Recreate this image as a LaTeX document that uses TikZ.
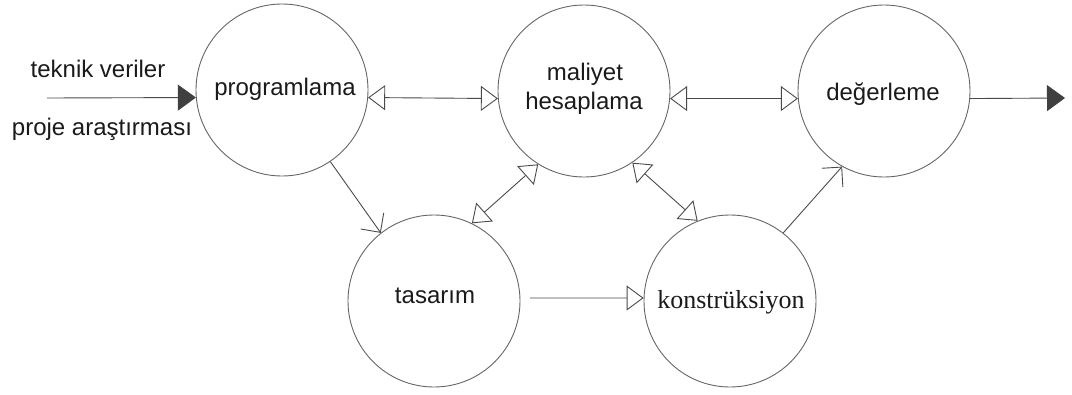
\documentclass[tikz,border=0pt]{standalone}
\usepackage{fontspec}
\setmainfont{Liberation Sans}
\newfontfamily\konfont{Liberation Serif}
\usetikzlibrary{arrows.meta}
\definecolor{circgray}{HTML}{666666}
\definecolor{linegray}{HTML}{4A4A4A}
\definecolor{headgray}{HTML}{404040}
\definecolor{txt}{HTML}{1A1A1A}
\begin{document}
\begin{tikzpicture}[x=1pt,y=-1pt,
  circ/.style={circle,draw=circgray,line width=0.9pt,minimum size=172pt,inner sep=0pt},
  lbl/.style={font=\fontsize{24}{28}\selectfont,text=txt,anchor=base,inner sep=0pt},
  konlbl/.style={font=\konfont\fontsize{26}{30}\selectfont,text=txt,anchor=base,inner sep=0pt},
  conn/.style={draw=linegray,line width=0.9pt},
  opentri/.style={-{Triangle[open,length=17pt,width=25pt]}},
  bothtri/.style={{Triangle[open,length=17pt,width=25pt]}-{Triangle[open,length=17pt,width=25pt]}},
  filltri/.style={-{Triangle[length=18pt,width=26pt,fill=headgray,color=headgray]}},
  barb/.style={-{Straight Barb[length=14pt,width=28pt]}}
]
\useasboundingbox (0,0) rectangle (1072,394);

\node[circ] (prog) at (282,90) {};
\node[circ] (mal) at (584,91) {};
\node[circ] (deg) at (884,91) {};
\node[circ] (tas) at (434,301) {};
\node[circ] (kon) at (730,301) {};

\node[lbl] (tprog) at (285,95) {programlama};
\node[lbl] (tmal1) at (585,80) {maliyet};
\node[lbl] (tmal2) at (584,109) {hesaplama};
\node[lbl] (tdeg) at (883,100) {değerleme};
\node[lbl] (ttas) at (435,303) {tasarım};
\node[konlbl] (tkon) at (731,308) {konstrüksiyon};

\node[lbl] (tin1) at (98,77) {teknik veriler};
\node[lbl] (tin2) at (102,135) {proje araştırması};

\coordinate (in) at (47,98);
\coordinate (out) at (1065,98);
\coordinate (tasout) at (530,298);

\draw[conn,filltri] (in) -- (prog.185.3);
\draw[conn,bothtri] (prog.-5.3) -- (mal.185.3);
\draw[conn,bothtri] (mal.-5.3) -- (deg.185.3);
\draw[conn,filltri] (deg.-5.3) -- (out);

\draw[conn,barb] (prog.-56.7) -- (tas.128.5);
\draw[conn,bothtri] (tas.64) -- (mal.238);
\draw[conn,bothtri] (mal.-56.5) -- (kon.112);
\draw[conn,barb] (kon.52.5) -- (deg.241);
\draw[conn,opentri] (tasout) -- (kon.178);
\end{tikzpicture}
\end{document}
